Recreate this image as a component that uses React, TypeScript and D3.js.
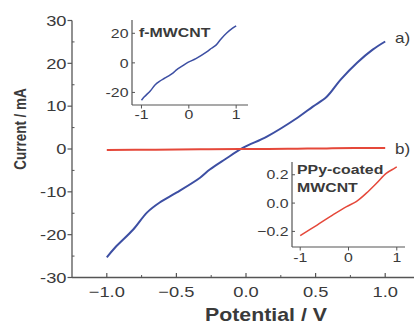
import React from "react";
import * as d3 from "d3";

// Data
const potentialA = [-1.0, -0.94, -0.81, -0.71, -0.62, -0.5, -0.33, -0.26, -0.15, -0.02, 0.15, 0.37, 0.48, 0.58, 0.68, 0.8, 0.91, 1.0];
const currentA = [-25.3, -23, -18.8, -14.8, -12.5, -10.2, -6.7, -4.8, -2.4, 0.3, 2.9, 7.3, 9.9, 12.2, 16.2, 20.2, 23.2, 25.1];

const potentialB = [-1.0, -0.65, -0.33, -0.04, 0.16, 0.37, 0.58, 0.78, 0.95, 1.0];
const currentB = [-0.23, -0.155, -0.085, -0.025, 0.01, 0.07, 0.14, 0.21, 0.245, 0.255];

const mainXTicks = [-1.0, -0.5, 0.0, 0.5, 1.0];
const mainXMinor = [-0.75, -0.25, 0.25, 0.75];
const mainYTicks = [-30, -20, -10, 0, 10, 20, 30];
const mainYMinor = [-25, -15, -5, 5, 15, 25];
const inset1XTicks = [-1, 0, 1];
const inset1YTicks = [-20, 0, 20];
const inset2XTicks = [-1, 0, 1];
const inset2YTicks = [-0.2, 0.0, 0.2];

const BLUE = "#3d4fa3";
const RED = "#e5483a";
const TXT = "#3a3a3a";
const AX = "#555";
const SX = 1.22;

function T({ x, y, size, anchor = "start", bold = false, rotate = false, children }: any) {
  const tr = `translate(${x},${y}) scale(${SX},1)` + (rotate ? " rotate(-90)" : "");
  return (
    <text transform={tr} fontSize={size} textAnchor={anchor} fontWeight={bold ? "bold" : "normal"}
      fontFamily="'Liberation Sans', Arial, sans-serif" fill={TXT}>
      {children}
    </text>
  );
}

export default function App() {
  // main scales
  const x = d3.scaleLinear().domain([-1.25, 1.25]).range([72, 420]);
  const y = d3.scaleLinear().domain([-30, 30]).range([277.5, 20.5]);
  const dataA = potentialA.map((p, i) => [p, currentA[i]] as [number, number]);
  const dataB = potentialB.map((p, i) => [p, currentB[i]] as [number, number]);
  const curve = d3.curveCatmullRom.alpha(0.5);
  const lineMain = d3.line<[number, number]>().x(d => x(d[0])).y(d => y(d[1])).curve(curve);

  // inset 1
  const x1 = d3.scaleLinear().domain([-1.2, 1.25]).range([132, 248]);
  const y1 = d3.scaleLinear().domain([-28.5, 29]).range([105, 20]);
  const line1 = d3.line<[number, number]>().x(d => x1(d[0])).y(d => y1(d[1])).curve(curve);

  // inset 2
  const x2 = d3.scaleLinear().domain([-1.17, 1.17]).range([292, 405]);
  const y2 = d3.scaleLinear().domain([-0.31, 0.29]).range([247, 162]);
  const line2 = d3.line<[number, number]>().x(d => x2(d[0])).y(d => y2(d[1])).curve(curve);

  const fmt1 = d3.format(".1f");

  return (
    <svg width={414} height={326} style={{ position: "absolute", left: 0, top: 0, background: "#fff" }}>
      <rect width={414} height={326} fill="#fff" />
      {/* main axes */}
      <line x1={72} y1={20.5} x2={72} y2={277.5} stroke={AX} strokeWidth={1.3} />
      <line x1={72} y1={277.5} x2={420} y2={277.5} stroke={AX} strokeWidth={1.3} />
      {mainYTicks.map(t => (
        <g key={"my" + t}>
          <line x1={67.5} x2={72} y1={y(t)} y2={y(t)} stroke={AX} strokeWidth={1.2} />
          <T x={66.5} y={y(t) + 5.3} size={15} anchor="end">{t}</T>
        </g>
      ))}
      {mainYMinor.map(t => (
        <line key={"mym" + t} x1={72} x2={74.5} y1={y(t)} y2={y(t)} stroke={AX} strokeWidth={1} />
      ))}
      {mainXTicks.map(t => (
        <g key={"mx" + t}>
          <line x1={x(t)} x2={x(t)} y1={277.5} y2={273} stroke={AX} strokeWidth={1.2} />
          <T x={x(t)} y={297} size={15} anchor="middle">{fmt1(t)}</T>
        </g>
      ))}
      {mainXMinor.map(t => (
        <line key={"mxm" + t} x1={x(t)} x2={x(t)} y1={277.5} y2={275} stroke={AX} strokeWidth={1} />
      ))}
      <path d={lineMain(dataA) || ""} fill="none" stroke={BLUE} strokeWidth={2} />
      <path d={lineMain(dataB) || ""} fill="none" stroke={RED} strokeWidth={2} />
      <T x={395} y={43} size={14}>a)</T>
      <T x={395} y={154} size={14}>b)</T>
      <T x={26} y={129} size={13.5} bold rotate anchor="middle">Current / mA</T>
      <T x={266} y={321} size={17.5} bold anchor="middle">Potential / V</T>

      {/* inset 1 */}
      <line x1={132} y1={20} x2={132} y2={105} stroke={AX} strokeWidth={1.2} />
      <line x1={132} y1={105} x2={248} y2={105} stroke={AX} strokeWidth={1.2} />
      {inset1YTicks.map(t => (
        <g key={"i1y" + t}>
          <line x1={132} x2={135} y1={y1(t)} y2={y1(t)} stroke={AX} strokeWidth={1} />
          <T x={128.5} y={y1(t) + 4.7} size={13} anchor="end">{t}</T>
        </g>
      ))}
      {inset1XTicks.map(t => (
        <g key={"i1x" + t}>
          <line x1={x1(t)} x2={x1(t)} y1={105} y2={108.5} stroke={AX} strokeWidth={1} />
          <T x={x1(t)} y={119} size={13} anchor="middle">{t}</T>
        </g>
      ))}
      <path d={line1(dataA) || ""} fill="none" stroke={BLUE} strokeWidth={1.5} />
      <T x={139} y={37} size={13} bold>f-MWCNT</T>

      {/* inset 2 */}
      <line x1={292} y1={162} x2={292} y2={247} stroke={AX} strokeWidth={1.2} />
      <line x1={292} y1={247} x2={405} y2={247} stroke={AX} strokeWidth={1.2} />
      {inset2YTicks.map(t => (
        <g key={"i2y" + t}>
          <line x1={292} x2={295} y1={y2(t)} y2={y2(t)} stroke={AX} strokeWidth={1} />
          <T x={288.5} y={y2(t) + 4.7} size={13} anchor="end">{fmt1(t)}</T>
        </g>
      ))}
      {inset2XTicks.map(t => (
        <g key={"i2x" + t}>
          <line x1={x2(t)} x2={x2(t)} y1={247} y2={250.5} stroke={AX} strokeWidth={1} />
          <T x={x2(t)} y={262} size={13} anchor="middle">{t}</T>
        </g>
      ))}
      <path d={line2(dataB) || ""} fill="none" stroke={RED} strokeWidth={1.5} />
      <T x={297} y={174} size={13} bold>PPy-coated</T>
      <T x={297} y={192} size={13} bold>MWCNT</T>
    </svg>
  );
}
